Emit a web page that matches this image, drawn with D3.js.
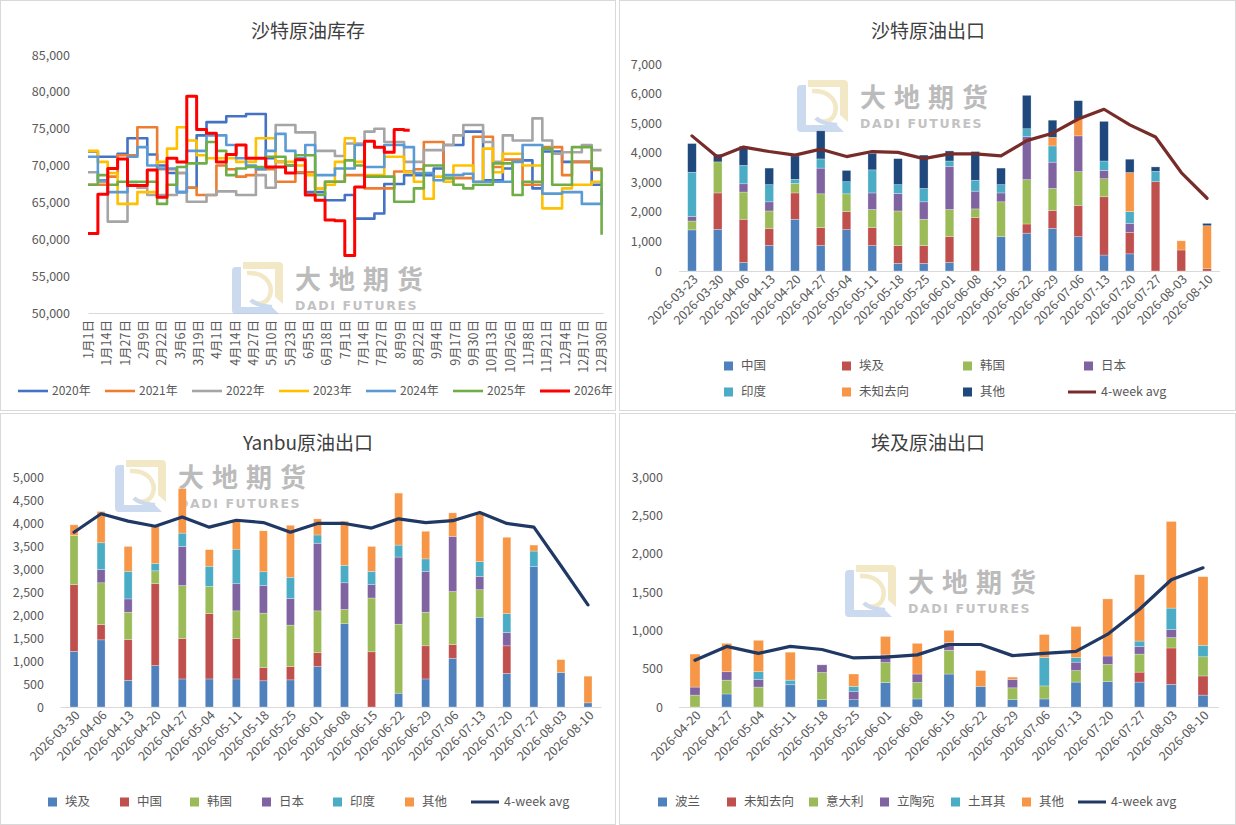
<!DOCTYPE html>
<html><head><meta charset="utf-8">
<script src="https://cdn.jsdelivr.net/npm/d3@7"></script>
<style>
body{margin:0;background:#fff;}
svg{display:block;}
</style></head><body>
<script>
// ===================== DATA =====================
// Panel 1: 沙特原油库存 (weekly values, step lines)
const invYears = ["2020年","2021年","2022年","2023年","2024年","2025年","2026年"];
const inv2020 = [71900,71200,71200,71600,73700,73700,71500,70000,69000,66400,67000,74100,75900,75900,76700,76700,77000,77000,
  71000,70500,70000,69000,66400,66400,65300,65300,66000,62800,62800,63500,67500,67500,68700,68700,68700,
  69600,72800,72800,74600,74600,68000,68000,69600,70700,70700,66900,71900,71900,70500,70500,70500,67400,67400];
const inv2021 = [67400,67400,68500,71400,71400,75200,75200,69500,69500,69000,67000,66000,66000,70000,69500,68500,68700,69500,
  69500,67800,67800,69100,69100,66900,67800,67800,68700,68700,66900,66900,66900,69200,69200,69500,73200,73200,
  68300,68300,68300,73900,73900,69800,70800,70800,67400,67400,72500,72500,68700,70500,70500,69400,69400];
const inv2022 = [69100,67800,62400,62400,67400,67000,66000,66000,66000,69000,65100,65100,66000,66500,66500,66000,66000,68700,
  67000,75500,75500,74500,74500,72000,72000,71300,73000,73000,74600,75000,73200,73200,70500,70500,72100,
  72100,72800,74100,75500,75500,73200,70500,74100,73400,73400,76400,73400,71600,71800,71800,72800,72100,72100];
const inv2023 = [72000,70500,69000,64800,64800,66400,66400,70500,72300,75200,73400,71400,71000,71000,71000,70500,70500,73700,
  73700,70500,70500,70000,68700,66900,67400,70500,73700,70500,68700,68700,71200,71200,69100,67800,65500,68500,
  67800,70000,70000,67800,72300,69100,71600,71600,70000,70000,64200,64200,66900,67400,67400,67800,67800];
const inv2024 = [71200,68000,66400,66400,71200,72500,70000,69600,69600,66400,72000,72000,74100,74100,72800,71000,70000,69500,
  72000,74300,72000,71000,72800,68700,68700,69600,69600,72800,69800,69800,72800,72800,72500,69000,69000,68000,
  68700,68700,68900,67800,67800,67800,67800,70500,72800,72800,66200,66200,66400,66400,64800,64800,66900];
const inv2025 = [67400,68700,67400,67800,67800,67800,67800,64800,67400,69800,70300,70300,73200,72000,68700,69600,69800,69800,
  71200,71200,70000,71400,71400,66000,67800,67800,70700,70000,68500,68500,68500,65100,65100,66900,70000,70000,
  68300,67400,66900,67400,67400,70300,70300,66000,67800,67800,72300,67400,67400,72500,72500,69600,60600];
const inv2026 = [60800,66100,69600,70900,67300,67300,69400,65700,71000,70500,79400,74900,74400,70500,71500,72800,71000,71000,
  69800,69800,69000,70800,66000,65300,62600,62500,57800,67100,73300,72500,71800,74900,74800];
const invDayLabels = ["1月1日","1月14日","1月27日","2月9日","2月22日","3月6日","3月19日","4月1日","4月14日","4月27日",
  "5月10日","5月23日","6月5日","6月18日","7月1日","7月14日","7月27日","8月9日","8月22日","9月4日","9月17日","9月30日",
  "10月13日","10月26日","11月8日","11月21日","12月4日","12月17日","12月30日"];
const invTicks = [50000,55000,60000,65000,70000,75000,80000,85000];

// Panel 2: 沙特原油出口
const saDates = ["2026-03-23","2026-03-30","2026-04-06","2026-04-13","2026-04-20","2026-04-27","2026-05-04","2026-05-11",
  "2026-05-18","2026-05-25","2026-06-01","2026-06-08","2026-06-15","2026-06-22","2026-06-29","2026-07-06","2026-07-13",
  "2026-07-20","2026-07-27","2026-08-03","2026-08-10"];
const saChina   = [1390,1410,290,860,1750,860,1400,860,260,260,290,0,1160,1280,1440,1160,540,580,0,0,0];
const saEgypt   = [0,1230,1460,580,890,610,610,610,600,600,870,1810,0,310,610,1060,1970,720,3020,710,90];
const saKorea   = [300,1050,920,590,320,1140,600,610,1170,890,920,290,1180,1500,740,1140,610,0,0,0,0];
const saJapan   = [150,0,280,310,0,870,0,560,590,590,1460,600,300,1460,890,1210,280,310,0,0,0];
const saIndia   = [1500,0,620,580,140,310,410,780,300,450,180,370,280,260,550,0,320,400,350,0,0];
const saUnknown = [0,0,0,0,0,0,0,0,0,0,0,0,0,0,290,570,0,1320,0,310,1440];
const saOther   = [970,260,650,560,790,950,380,560,880,1130,340,970,560,1130,580,620,1340,450,150,0,80];
const saAvg     = [4570,3850,4190,4040,3920,4120,3870,4040,4010,3800,3960,3960,3890,4410,4660,5140,5470,4940,4530,3330,2460];
const saTicks   = [0,1000,2000,3000,4000,5000,6000,7000];

// Panel 3: Yanbu原油出口
const ybDates = ["2026-03-30","2026-04-06","2026-04-13","2026-04-20","2026-04-27","2026-05-04","2026-05-11","2026-05-18",
  "2026-05-25","2026-06-01","2026-06-08","2026-06-15","2026-06-22","2026-06-29","2026-07-06","2026-07-13","2026-07-20",
  "2026-07-27","2026-08-03","2026-08-10"];
const ybEgypt = [1210,1460,580,900,610,610,610,570,590,880,1810,0,300,610,1060,1950,730,3050,750,90];
const ybChina = [1450,330,890,1780,880,1420,880,290,290,300,0,1200,0,720,300,0,600,0,0,0];
const ybKorea = [1070,910,590,280,1150,590,600,1180,900,910,310,1170,1500,730,1150,600,0,0,0,0];
const ybJapan = [0,290,290,0,850,0,590,600,580,1470,580,290,1460,890,1200,290,290,0,0,0];
const ybIndia = [0,580,600,160,290,440,750,300,460,180,380,290,260,270,0,320,410,340,0,0];
const ybOther = [230,680,540,810,970,360,610,890,1130,350,960,540,1130,600,510,1040,1660,130,280,580];
const ybAvg   = [3800,4200,4040,3930,4130,3910,4060,4010,3800,3990,3990,3890,4090,4010,4050,4230,3990,3910,3070,2220];
const ybTicks = [0,500,1000,1500,2000,2500,3000,3500,4000,4500,5000];

// Panel 4: 埃及原油出口
const egDates = ["2026-04-20","2026-04-27","2026-05-04","2026-05-11","2026-05-18","2026-05-25","2026-06-01","2026-06-08",
  "2026-06-15","2026-06-22","2026-06-29","2026-07-06","2026-07-13","2026-07-20","2026-07-27","2026-08-03","2026-08-10"];
const egPoland    = [0,170,0,290,95,95,320,105,430,270,95,105,325,330,325,295,155];
const egUnknown   = [0,0,0,0,0,0,0,0,0,0,0,0,0,0,130,475,250];
const egItaly     = [155,180,260,0,355,0,260,215,310,0,155,170,150,225,235,135,250];
const egLithuania = [105,110,100,0,100,110,100,110,100,0,110,0,110,110,100,105,0];
const egTurkey    = [0,0,100,60,0,65,0,0,0,0,0,370,60,0,70,280,150];
const egOther     = [430,370,410,365,0,160,240,400,160,205,30,300,405,745,865,1130,895];
const egAvg       = [610,790,700,790,750,640,650,680,815,815,670,700,725,950,1275,1660,1815];
const egTicks     = [0,500,1000,1500,2000,2500,3000];

// ===================== RENDER =====================
const FONT = '"Noto Sans CJK SC","Microsoft YaHei",sans-serif';
const TXT = '#595959';
const C = {blue:'#4F81BD', red:'#C0504D', green:'#9BBB59', purple:'#8064A2', cyan:'#4BACC6', orange:'#F79646', navy:'#1F497D'};

const svg = d3.select('body').append('svg').attr('width',1236).attr('height',825)
  .style('font-family',FONT);

// panel frames
[[0.5,0.5,615,410],[619.5,0.5,616,410],[0.5,413.5,615,411],[619.5,413.5,616,411]].forEach(r=>{
  svg.append('rect').attr('x',r[0]).attr('y',r[1]).attr('width',r[2]).attr('height',r[3])
    .attr('fill','#fff').attr('stroke','#d9d9d9').attr('stroke-width',1);
});

function title(x,y,t){
  svg.append('text').attr('x',x).attr('y',y).attr('text-anchor','middle')
    .attr('font-size',19).attr('fill','#404040').text(t);
}

function watermark(x,y){
  const g = svg.append('g').attr('transform',`translate(${x},${y})`).attr('opacity',0.6);
  g.append('path').attr('d','M11,0 H47 Q51,0 51,4 V42 L43,35 V7 H11 Z').attr('fill','#ecd9a0');
  g.append('path').attr('d','M0,9 Q0,5 4,5 H9 V45 H40 L47,52 H4 Q0,52 0,48 Z').attr('fill','#a9c3e3');
  g.append('path').attr('d','M15,11 C34,10 41,23 38,33 C35,42 25,44 19,38')
    .attr('fill','none').attr('stroke','#ecd9a0').attr('stroke-width',4.5);
  g.append('path').attr('d','M19,38 C24,44 34,44 40,45').attr('fill','none').attr('stroke','#a9c3e3').attr('stroke-width',4);
  g.append('text').attr('x',63).attr('y',27).attr('font-size',26).attr('font-weight',700)
    .attr('letter-spacing',8).attr('fill','#8f8f8f').text('大地期货');
  g.append('text').attr('x',63).attr('y',48).attr('font-size',12.5).attr('font-weight',700)
    .attr('letter-spacing',1.6).attr('fill','#9a9a9a').style('font-family','"DejaVu Sans",sans-serif').text('DADI FUTURES');
}

// ---------- Panel 1: line chart ----------
(function(){
  title(308,38,'沙特原油库存');
  const x = d3.scaleLinear().domain([0,365]).range([88,603]);
  const y = d3.scaleLinear().domain([50000,85000]).range([313,55]);
  const g = svg.append('g');
  watermark(232,262);
  const ya = d3.axisLeft(y).tickValues(invTicks).tickSize(0).tickPadding(0).tickFormat(d3.format(','));
  g.append('g').attr('transform','translate(70,0)').call(ya)
    .call(a=>a.select('.domain').remove())
    .attr('font-family',FONT).attr('font-size',12.5)
    .selectAll('text').attr('fill',TXT);
  const dayTicks = invDayLabels.map((d,i)=>i*13);
  const xa = d3.axisBottom(x).tickValues(dayTicks).tickSize(0).tickSizeOuter(0).tickFormat((d,i)=>invDayLabels[i]);
  const xg = g.append('g').attr('transform','translate(0,313)').call(xa)
    .attr('font-family',FONT).attr('font-size',12.5);
  xg.select('.domain').attr('stroke','#d9d9d9');
  xg.selectAll('text').attr('fill',TXT).attr('transform','rotate(-90)').attr('text-anchor','end')
    .attr('x',-7).attr('y',0).attr('dy','0.35em');

  const series = [inv2020,inv2021,inv2022,inv2023,inv2024,inv2025,inv2026];
  const colors = ['#4472C4','#ED7D31','#A5A5A5','#FFC000','#5B9BD5','#70AD47','#FF0000'];
  const line = d3.line().x(d=>x(d[0])).y(d=>y(d[1])).curve(d3.curveStepAfter);
  series.forEach((s,k)=>{
    const pts = s.map((v,i)=>[i*7,v]);
    if(pts[pts.length-1][0] < 364) pts.push([s.length*7 - 3, s[s.length-1]]);
    g.append('path').datum(pts).attr('d',line).attr('fill','none')
      .attr('stroke',colors[k]).attr('stroke-width',k===6?3:2.6).attr('stroke-linejoin','round');
  });
  // legend
  const lx = [18,105,192,279,366,453,540];
  invYears.forEach((t,i)=>{
    g.append('line').attr('x1',lx[i]).attr('x2',lx[i]+30).attr('y1',391).attr('y2',391)
      .attr('stroke',colors[i]).attr('stroke-width',i===6?3:2.6);
    g.append('text').attr('x',lx[i]+34).attr('y',391).attr('dy','0.35em').attr('font-size',12)
      .attr('fill',TXT).text(t);
  });
})();

// ---------- stacked bar panels ----------
function stackedPanel(o){
  const g = svg.append('g');
  const x = d3.scalePoint().domain(o.cats).range([o.x0,o.x1]).padding(0.5);
  const y = d3.scaleLinear().domain([0,o.ticks[o.ticks.length-1]]).range([o.yB,o.yT]);
  const keys = o.series.map(s=>s.name);
  const rows = o.cats.map((c,i)=>{const r={cat:c}; o.series.forEach(s=>r[s.name]=s.values[i]); return r;});
  const stacked = d3.stack().keys(keys)(rows);
  // axes
  const ya = d3.axisLeft(y).tickValues(o.ticks).tickSize(0).tickPadding(0).tickFormat(d3.format(','));
  g.append('g').attr('transform',`translate(${o.yLabelX},0)`).call(ya)
    .call(a=>a.select('.domain').remove())
    .attr('font-family',FONT).attr('font-size',12.5)
    .selectAll('text').attr('fill',TXT);
  const xa = d3.axisBottom(x).tickSize(0).tickSizeOuter(0);
  const xg = g.append('g').attr('transform',`translate(0,${o.yB})`).call(xa)
    .attr('font-family',FONT).attr('font-size',12.5);
  xg.select('.domain').attr('stroke','#d9d9d9').attr('d',`M${o.x0},0.5H${o.x1}`);
  xg.selectAll('text').attr('fill',TXT).attr('transform','translate(3,6) rotate(-45)')
    .attr('text-anchor','end').attr('x',0).attr('y',0).attr('dy','0.35em');
  // bars
  g.selectAll('g.layer').data(stacked).join('g').attr('class','layer')
    .attr('fill',(d,i)=>o.series[i].color)
    .selectAll('rect').data(d=>d).join('rect')
    .attr('x',d=>x(d.data.cat)-o.bw/2).attr('width',o.bw)
    .attr('y',d=>y(d[1])).attr('height',d=>Math.max(0,y(d[0])-y(d[1])))
    .attr('stroke','#ffffff').attr('stroke-width',0.6).attr('stroke-opacity',d=>(d[1]-d[0])>0?0.45:0);
  // avg line
  const line = d3.line().x((d,i)=>x(o.cats[i])).y(d=>y(d));
  g.append('path').datum(o.avg).attr('d',line).attr('fill','none').attr('stroke',o.avgColor)
    .attr('stroke-width',3.2).attr('stroke-linejoin','round').attr('stroke-linecap','round');
  // legend
  o.legend.forEach(it=>{
    if(it.line){
      g.append('line').attr('x1',it.x).attr('x2',it.x+28).attr('y1',it.y).attr('y2',it.y)
        .attr('stroke',o.avgColor).attr('stroke-width',3);
      g.append('text').attr('x',it.x+33).attr('y',it.y).attr('dy','0.35em').attr('font-size',12.5)
        .attr('fill',TXT).text(it.name);
    } else {
      const s = o.series.find(s=>s.name===it.name);
      g.append('rect').attr('x',it.x).attr('y',it.y-4.5).attr('width',9).attr('height',9).attr('fill',s.color);
      g.append('text').attr('x',it.x+17).attr('y',it.y).attr('dy','0.35em').attr('font-size',12.5)
        .attr('fill',TXT).text(it.name);
    }
  });
}

// Panel 2
title(928,38,'沙特原油出口');
watermark(797,80);
stackedPanel({
  cats:saDates, x0:679.1, x1:1219.9, yB:271, yT:64, ticks:saTicks, yLabelX:662, bw:8.6,
  series:[{name:'中国',values:saChina,color:C.blue},{name:'埃及',values:saEgypt,color:C.red},
    {name:'韩国',values:saKorea,color:C.green},{name:'日本',values:saJapan,color:C.purple},
    {name:'印度',values:saIndia,color:C.cyan},{name:'未知去向',values:saUnknown,color:C.orange},
    {name:'其他',values:saOther,color:C.navy}],
  avg:saAvg, avgColor:'#772C2A',
  legend:[{name:'中国',x:724,y:366},{name:'埃及',x:842,y:366},{name:'韩国',x:963,y:366},{name:'日本',x:1084,y:366},
    {name:'印度',x:724,y:392},{name:'未知去向',x:842,y:392},{name:'其他',x:963,y:392},{name:'4-week avg',x:1068,y:392,line:true}]
});

// Panel 3
title(308,450,'Yanbu原油出口');
watermark(115,460);
stackedPanel({
  cats:ybDates, x0:60.5, x1:601.5, yB:707, yT:477, ticks:ybTicks, yLabelX:44, bw:8,
  series:[{name:'埃及',values:ybEgypt,color:C.blue},{name:'中国',values:ybChina,color:C.red},
    {name:'韩国',values:ybKorea,color:C.green},{name:'日本',values:ybJapan,color:C.purple},
    {name:'印度',values:ybIndia,color:C.cyan},{name:'其他',values:ybOther,color:C.orange}],
  avg:ybAvg, avgColor:'#1F3864',
  legend:[{name:'埃及',x:48,y:802},{name:'中国',x:120,y:802},{name:'韩国',x:190,y:802},{name:'日本',x:262,y:802},
    {name:'印度',x:333,y:802},{name:'其他',x:405,y:802},{name:'4-week avg',x:471,y:802,line:true}]
});

// Panel 4
title(928,450,'埃及原油出口');
watermark(845,565);
stackedPanel({
  cats:egDates, x0:679.1, x1:1218.9, yB:707, yT:477, ticks:egTicks, yLabelX:663, bw:10,
  series:[{name:'波兰',values:egPoland,color:C.blue},{name:'未知去向',values:egUnknown,color:C.red},
    {name:'意大利',values:egItaly,color:C.green},{name:'立陶宛',values:egLithuania,color:C.purple},
    {name:'土耳其',values:egTurkey,color:C.cyan},{name:'其他',values:egOther,color:C.orange}],
  avg:egAvg, avgColor:'#1F3864',
  legend:[{name:'波兰',x:658,y:802},{name:'未知去向',x:727,y:802},{name:'意大利',x:809,y:802},{name:'立陶宛',x:880,y:802},
    {name:'土耳其',x:951,y:802},{name:'其他',x:1022,y:802},{name:'4-week avg',x:1078,y:802,line:true}]
});
</script>
</body></html>
